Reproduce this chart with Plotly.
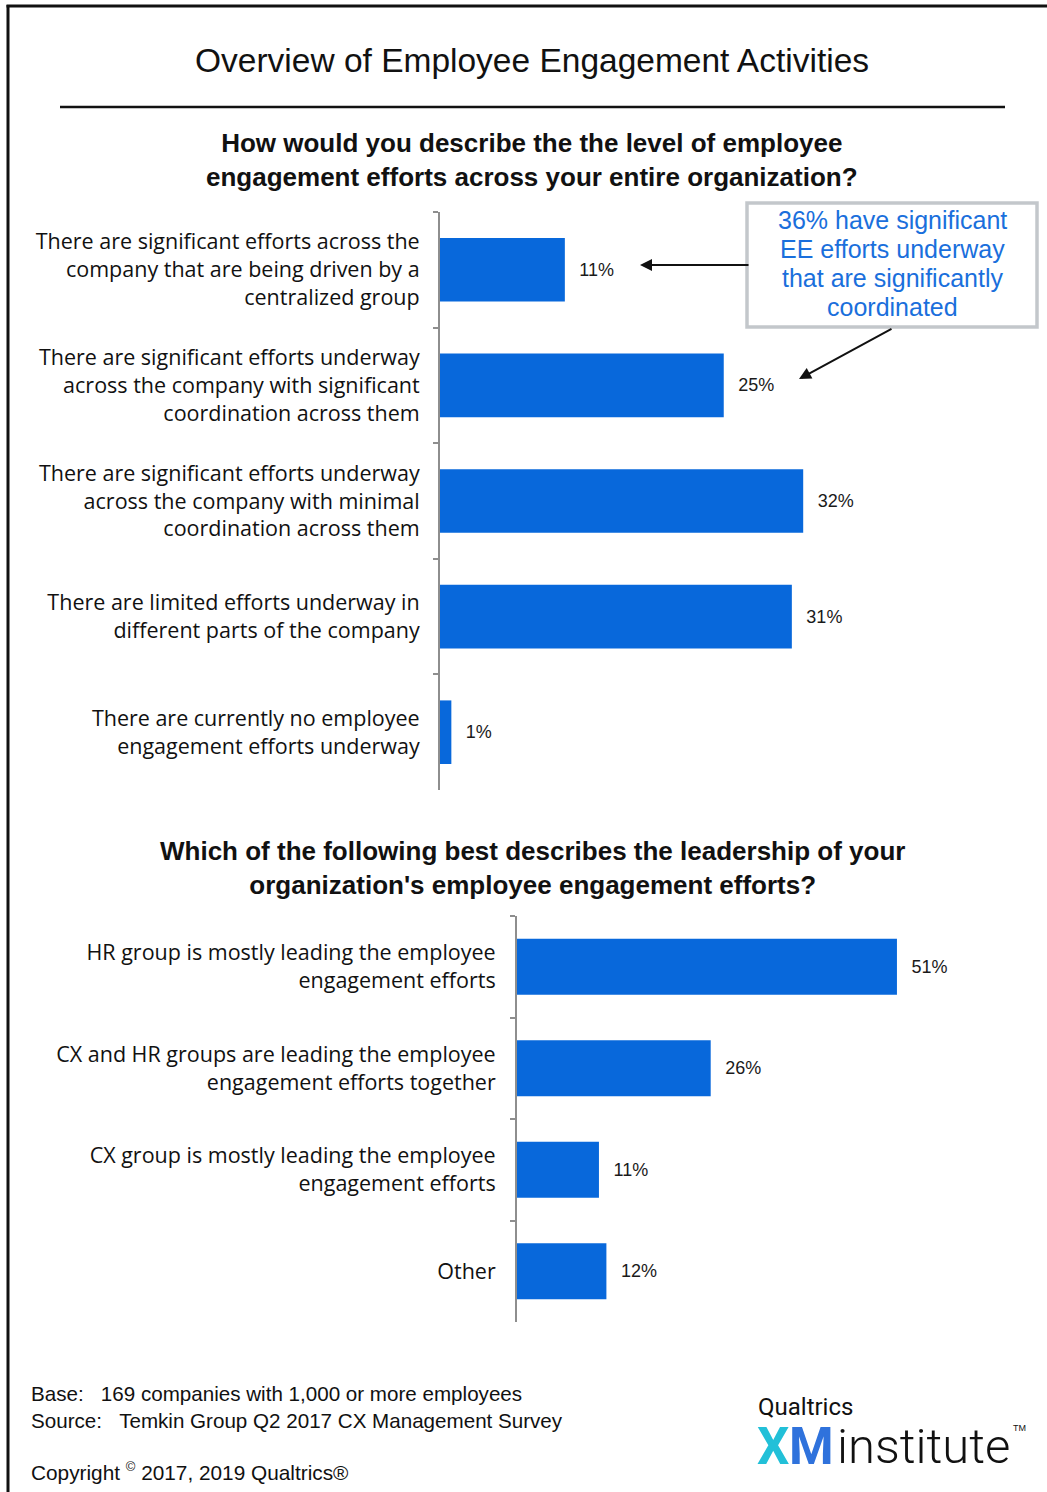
import plotly.graph_objects as go

W, H = 1047, 1492

# Survey question 1: level of employee engagement efforts
efforts_labels = [
    "There are significant efforts across the<br>company that are being driven by a<br>centralized group",
    "There are significant efforts underway<br>across the company with significant<br>coordination across them",
    "There are significant efforts underway<br>across the company with minimal<br>coordination across them",
    "There are limited efforts underway in<br>different parts of the company",
    "There are currently no employee<br>engagement efforts underway",
]
efforts_values = [11, 25, 32, 31, 1]

# Survey question 2: leadership of engagement efforts
leaders_labels = [
    "HR group is mostly leading the employee<br>engagement efforts",
    "CX and HR groups are leading the employee<br>engagement efforts together",
    "CX group is mostly leading the employee<br>engagement efforts",
    "Other",
]
leaders_values = [51, 26, 11, 12]

# Callout text, one entry per line
callout_lines = [
    "36% have significant",
    "EE efforts underway",
    "that are significantly",
    "coordinated",
]

BAR = "#0868DB"
AXIS_GRAY = "#8e8e8e"
FONT = "Liberation Sans"
LABEL_FONT = "Open Sans"


def px(x):
    return x / W


def py(y):
    return 1 - y / H


fig = go.Figure()

fig.add_trace(go.Bar(
    x=efforts_values, y=efforts_labels, orientation="h",
    marker=dict(color=BAR, line=dict(width=0)),
    text=efforts_values, texttemplate="\u00a0\u00a0\u200a%{x}%", textposition="outside",
    textfont=dict(family=FONT, size=18, color="#1a1a1a"),
    cliponaxis=False, xaxis="x", yaxis="y", hoverinfo="skip",
))
fig.add_trace(go.Bar(
    x=leaders_values, y=leaders_labels, orientation="h",
    marker=dict(color=BAR, line=dict(width=0)),
    text=leaders_values, texttemplate="\u00a0\u00a0\u200a%{x}%", textposition="outside",
    textfont=dict(family=FONT, size=18, color="#1a1a1a"),
    cliponaxis=False, xaxis="x2", yaxis="y2", hoverinfo="skip",
))

x1_start, x1_end = 440, 1000
x2_start, x2_end = 517, 1000
scale1 = 11.35  # px per percent
scale2 = 7.45

yaxis_common = dict(
    type="category", autorange="reversed", showline=True, linecolor=AXIS_GRAY,
    linewidth=2, ticks="outside", ticklen=5, tickwidth=2, tickcolor=AXIS_GRAY,
    tickson="boundaries", showgrid=False, zeroline=False,
    tickfont=dict(family=LABEL_FONT, size=21.5, color="#111111"),
)
xaxis_common = dict(visible=False, showgrid=False, zeroline=False, fixedrange=True)

fig.update_layout(
    width=W, height=H, margin=dict(l=0, r=0, t=0, b=0),
    paper_bgcolor="white", plot_bgcolor="white", showlegend=False,
    bargap=0.45, font=dict(family=FONT, color="#111111"),
    xaxis=dict(domain=[px(x1_start), px(x1_end)],
               range=[0, (x1_end - x1_start) / scale1], anchor="y", **xaxis_common),
    yaxis=dict(domain=[py(790), py(212)], anchor="x", ticklabelstandoff=14, **yaxis_common),
    xaxis2=dict(domain=[px(x2_start), px(x2_end)],
                range=[0, (x2_end - x2_start) / scale2], anchor="y2", **xaxis_common),
    yaxis2=dict(domain=[py(1322), py(916)], anchor="x2", ticklabelstandoff=15, **yaxis_common),
)

shapes = [
    # frame
    dict(type="line", xref="paper", yref="paper", x0=px(8), x1=px(8), y0=py(1495), y1=py(5),
         line=dict(color="#111111", width=3)),
    dict(type="line", xref="paper", yref="paper", x0=px(6.5), x1=px(1050), y0=py(6), y1=py(6),
         line=dict(color="#111111", width=3)),
    # rule under main title
    dict(type="line", xref="paper", yref="paper", x0=px(60), x1=px(1005), y0=py(107), y1=py(107),
         line=dict(color="#111111", width=2.5)),
    # callout box
    dict(type="rect", xref="paper", yref="paper", x0=px(747), x1=px(1037), y0=py(327), y1=py(203),
         line=dict(color="#c3c7cb", width=3.5), fillcolor="white"),
]

annotations = [
    dict(text="Overview of Employee Engagement Activities", x=px(532), y=py(61),
         font=dict(family=FONT, size=33.5, color="#111111")),
    dict(text="<b>How would you describe the the level of employee<br>engagement efforts across your entire organization?</b>",
         x=px(532), y=py(160), font=dict(family=FONT, size=26, color="#111111")),
    dict(text="<b>Which of the following best describes the leadership of your<br>organization's employee engagement efforts?</b>",
         x=px(532), y=py(868), font=dict(family=FONT, size=26, color="#111111")),
    # arrows
    dict(text="", x=px(640), y=py(265), ax=110, ay=0, showarrow=True, arrowhead=2,
         arrowsize=1.2, arrowwidth=2, arrowcolor="#111111"),
    dict(text="", x=px(799), y=py(379), ax=94, ay=-51, showarrow=True, arrowhead=2,
         arrowsize=1.2, arrowwidth=2, arrowcolor="#111111"),
    # footer
    dict(text="Base:\u00a0\u00a0\u00a0169 companies with 1,000 or more employees<br>Source:\u00a0\u00a0\u00a0Temkin Group Q2 2017 CX Management Survey",
         x=px(29), y=py(1407), xanchor="left", align="left",
         font=dict(family=FONT, size=20.6, color="#111111")),
    dict(text="Copyright <sup><span style='font-size:13px'>©</span></sup> 2017, 2019 Qualtrics®", x=px(29), y=py(1471),
         xanchor="left", font=dict(family=FONT, size=20.8, color="#111111")),
    # logo
    dict(text="Qualtrics", x=px(756), y=py(1407), xanchor="left",
         font=dict(family="Roboto", size=24, color="#111111")),
    dict(text="<b>X</b>", x=px(755), y=py(1446), xanchor="left",
         font=dict(family="Roboto", size=51, color="#22c0d8")),
    dict(text="<b>M</b>", x=px(787), y=py(1446), xanchor="left",
         font=dict(family="Roboto", size=51, color="#2f72dc")),
    dict(text="institute", x=px(835), y=py(1446), xanchor="left",
         font=dict(family="Roboto", size=49, color="#111111", weight=300)),
    dict(text="TM", x=px(1011), y=py(1428), xanchor="left",
         font=dict(family=FONT, size=9, color="#111111")),
]

# callout lines, spaced 29 px apart
for i, line in enumerate(callout_lines):
    annotations.append(dict(text=line, x=px(892), y=py(220 + 29 * i),
                            font=dict(family=FONT, size=25, color="#1a6fdc")))

for a in annotations:
    a.setdefault("xref", "paper")
    a.setdefault("yref", "paper")
    a.setdefault("showarrow", False)
    a.setdefault("xanchor", "center")
    a.setdefault("yanchor", "middle")
    a.setdefault("axref", "pixel")

fig.update_layout(shapes=shapes, annotations=annotations)

fig.write_html("out.html")
